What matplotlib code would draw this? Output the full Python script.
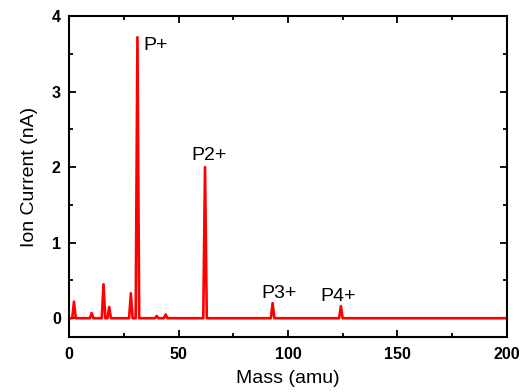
import numpy as np
import matplotlib.pyplot as plt
from matplotlib.ticker import MultipleLocator

plt.rcParams['font.family'] = ['Liberation Sans', 'DejaVu Sans']

# peak positions (amu) and heights (nA)
peak_mass = [2.2, 10.3, 15.7, 18.3, 28.2, 31.2, 40.0, 44.1, 62.1, 93.0, 124.2]
peak_height = [0.22, 0.07, 0.45, 0.15, 0.33, 3.72, 0.03, 0.05, 2.0, 0.2, 0.16]
peak_labels = ['P+', 'P2+', 'P3+', 'P4+']
label_pos = [(34, 3.5), (56, 2.04), (88, 0.22), (115, 0.17)]

# build the trace as narrow triangles on a flat baseline
half_width = 0.8
xs = [0.0]
ys = [0.0]
for m, h in zip(peak_mass, peak_height):
    xs += [m - half_width, m, m + half_width]
    ys += [0.0, h, 0.0]
xs.append(200.0)
ys.append(0.0)

fig = plt.figure(figsize=(5.24, 3.92), dpi=100)
ax = fig.add_axes([0.132, 0.140, 0.835, 0.819])
ax.plot(xs, ys, color='#ff0000', lw=1.9)

for lab, (x, y) in zip(peak_labels, label_pos):
    ax.text(x, y, lab, fontsize=14, va='bottom', ha='left')

ax.set_xlim(0, 200)
ax.set_ylim(-0.25, 4)
ax.xaxis.set_major_locator(MultipleLocator(50))
ax.xaxis.set_minor_locator(MultipleLocator(25))
ax.yaxis.set_major_locator(MultipleLocator(1))
ax.yaxis.set_minor_locator(MultipleLocator(0.5))
ax.tick_params(which='both', direction='in', top=True, right=True, width=1.3)
ax.tick_params(which='major', length=5, labelsize=11.5)
ax.tick_params(which='minor', length=3)
ax.tick_params(axis='x', which='major', pad=7)
ax.tick_params(axis='y', which='major', pad=6)
for lbl in ax.get_xticklabels() + ax.get_yticklabels():
    lbl.set_fontweight('bold')
for s in ax.spines.values():
    s.set_linewidth(1.5)

ax.set_xlabel('Mass (amu)', fontsize=14, labelpad=6)
ax.set_ylabel('Ion Current (nA)', fontsize=14, labelpad=10)

fig.savefig('out.png', dpi=100)
